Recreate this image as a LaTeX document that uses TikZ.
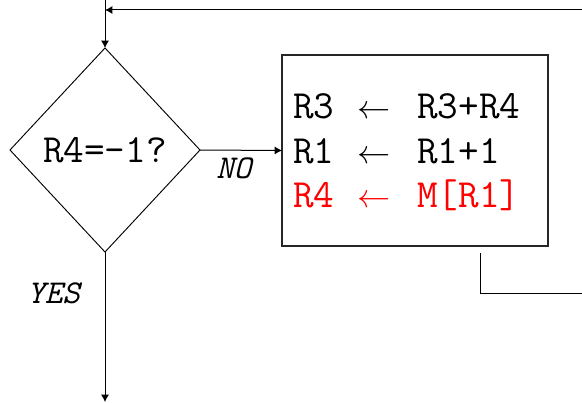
\documentclass[tikz,border=0pt]{standalone}
\usepackage{fontspec}
\usetikzlibrary{shapes.geometric}
\usetikzlibrary{arrows.meta}

\tikzset{
  flow/.style={line width=0.75pt, -{Latex[length=5.5pt,width=6pt]}},
  wire/.style={line width=0.75pt},
  asm/.style={font=\ttfamily\fontsize{30}{34}\selectfont, inner sep=0pt, anchor=base west},
  arr/.style={font=\fontsize{28}{32}\selectfont, inner sep=0pt, anchor=base west},
  tag/.style={font=\ttfamily\itshape\fontsize{25}{28}\selectfont, inner sep=0pt, anchor=base west},
}

\begin{document}
\begin{tikzpicture}[x=0.75pt, y=-0.75pt]

    \useasboundingbox (0,0) rectangle (582,403);

    % Test of the loaded word
    \node[diamond, draw=black, line width=0.7pt,
          minimum width=142.5pt, minimum height=153pt,
          inner sep=0pt, outer sep=0pt,
          font=\ttfamily\fontsize{30}{34}\selectfont] (Cond) at (105,150) {R4=-1?};

    % Loop body
    \node[rectangle, draw=black!85, line width=0.8pt,
          minimum width=199.5pt, minimum height=143.25pt,
          inner sep=0pt, outer sep=0pt] (Body) at (415,150.5) {};

    % Body lines, one node per column
    \node[asm] (Dst_one)   at (293,118) {R3};
    \node[arr] (Arr_one)   at (357,118) {$\leftarrow$};
    \node[asm] (Src_one)   at (417,118) {R3+R4};
    \node[asm] (Dst_two)   at (293,163) {R1};
    \node[arr] (Arr_two)   at (357,163) {$\leftarrow$};
    \node[asm] (Src_two)   at (417,163) {R1+1};
    \node[asm, text=red] (Dst_three) at (293,207) {R4};
    \node[arr, text=red] (Arr_three) at (357,207) {$\leftarrow$};
    \node[asm, text=red] (Src_three) at (417,207) {M[R1]};

    % Branch labels
    \node[tag] (No_label)  at (216,178) {NO};
    \node[tag] (Yes_label) at (27,303) {YES};

    % Free ends of the connectors
    \coordinate (Top_in)    at (105,0);
    \coordinate (Back_in)   at (582,10);
    \coordinate (Back_join) at (105,10);
    \coordinate (Exit)      at (105,402);
    \coordinate (Loop_from) at (480,253);
    \coordinate (Loop_to)   at (582,293);

    % Connectors
    \draw[flow] (Top_in) -- (Cond.north);
    \draw[flow] (Back_in) -- (Back_join);
    \draw[flow] (Cond.east) -- (Body.west);
    \draw[flow] (Cond.south) -- (Exit);
    \draw[wire] (Loop_from) |- (Loop_to);

\end{tikzpicture}
\end{document}
